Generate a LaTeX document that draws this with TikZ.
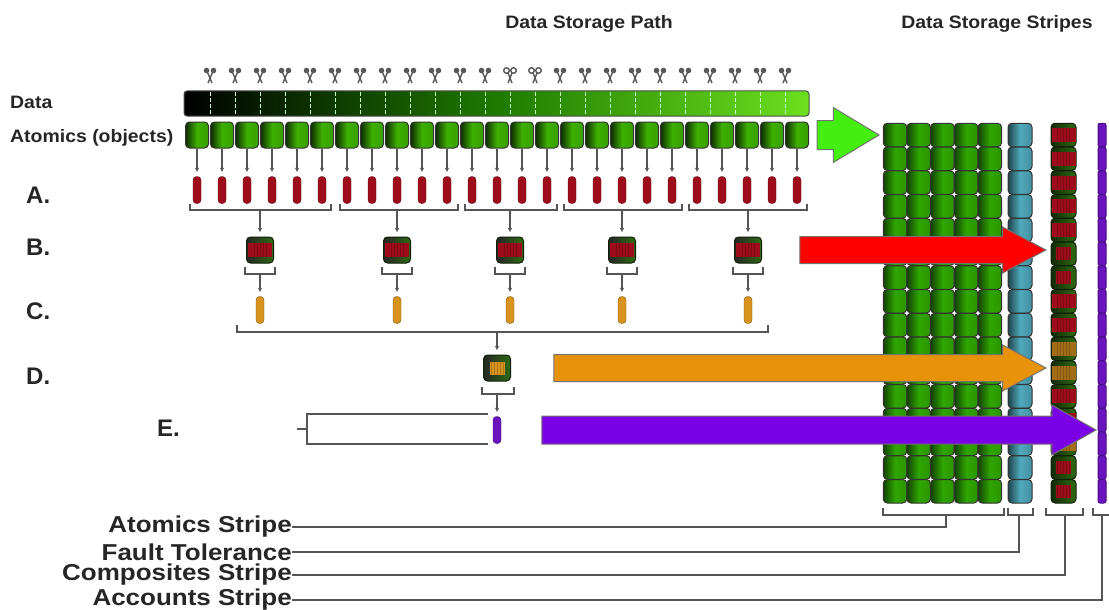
\documentclass[tikz,border=0pt]{standalone}
\usepackage{fontspec}
\setmainfont{Liberation Sans}
\usetikzlibrary{shapes.arrows, arrows.meta}
\definecolor{wirecol}{HTML}{555555}
\definecolor{atomgreen}{HTML}{3DB000}
\definecolor{stripegreen}{HTML}{2FA600}
\definecolor{compgreen}{HTML}{2F6A14}
\definecolor{tealcell}{HTML}{4FA9BC}
\definecolor{corered}{HTML}{9E0C1C}
\definecolor{pillorange}{HTML}{D8921E}
\definecolor{violet}{HTML}{6A14BE}
\definecolor{arrowgreen}{HTML}{44EE11}
\definecolor{arroworange}{HTML}{E8920A}
\definecolor{arrowviolet}{HTML}{7A00E6}
\definecolor{barmid}{HTML}{1E7A00}
\definecolor{barend}{HTML}{6CE01E}
\newcommand{\widen}[2][1.13]{\scalebox{#1}[1]{#2}}

\begin{document}
\begin{tikzpicture}[x=1pt, y=-1pt,
    wire/.style={draw=wirecol, line width=1.3pt},
    flow/.style={wire, -{Latex[length=4.5pt, width=4.5pt]}},
    title/.style={font=\fontsize{18}{18}\selectfont\bfseries, text=black!85},
    rowlabel/.style={font=\fontsize{18}{18}\selectfont\bfseries, anchor=west, text=black!85, inner sep=0pt},
    letter/.style={font=\fontsize{24}{24}\selectfont\bfseries, anchor=west, text=black!85, inner sep=0pt},
    stripelabel/.style={font=\fontsize{23}{23}\selectfont\bfseries, anchor=east, text=black!85, inner sep=0pt},
    cell/.style={rectangle, rounded corners=4pt, draw=black!80, line width=1pt, inner sep=0pt},
    atom/.style={cell, minimum width=23pt, minimum height=26pt, left color=black!75!atomgreen, right color=atomgreen!90!black, middle color=atomgreen},
    stripecell/.style={cell, minimum width=23.5pt, minimum height=23.5pt, left color=black!60!stripegreen, right color=stripegreen!90!black, middle color=stripegreen},
    tealbox/.style={cell, minimum width=24pt, minimum height=23.5pt, left color=black!60!tealcell, right color=tealcell!85!black, middle color=tealcell},
    slim/.style={cell, rounded corners=2pt, minimum width=8pt, minimum height=23.5pt, draw=violet!70!black, fill=violet},
    compcell/.style={cell, minimum width=25pt, minimum height=23.5pt, left color=black!60!compgreen, right color=compgreen, draw=black!70!compgreen},
    compbox/.style={cell, minimum width=27pt, minimum height=26pt, left color=black!85, right color=compgreen, draw=black!70!compgreen},
    core/.style={rectangle, inner sep=0pt, draw=none, fill=#1, path picture={
        \foreach \k in {-6,-3,...,6}
            \draw[black!20!#1, line width=0.7pt] ([xshift=\k pt]path picture bounding box.north) -- ([xshift=\k pt]path picture bounding box.south);
    }},
    widecore/.style={core=#1, minimum width=24pt, minimum height=14pt},
    smallcore/.style={core=#1, minimum width=15pt, minimum height=13pt},
    pill/.style={rectangle, rounded corners=3.5pt, minimum width=8pt, minimum height=27pt, inner sep=0pt, draw=#1!60!black, fill=#1},
    bigarrow/.style={single arrow, anchor=tip, inner xsep=0pt, single arrow head indent=0pt, draw=black!55, line width=1pt},
    scissor/.pic={
        \draw[gray!70!black, line width=1.4pt] (-3.5,-6) -- (2,7) (3.5,-6) -- (-2,7);
        \fill[gray!70!black] (-3.5,-5.5) circle (2.8) (3.5,-5.5) circle (2.8);
    },
    openscissor/.pic={
        \draw[gray!70!black, line width=1.4pt] (-2,-3) -- (2,7) (2,-3) -- (-2,7);
        \draw[gray!70!black, line width=1.4pt, fill=white] (-3.5,-5.5) circle (2.8) (3.5,-5.5) circle (2.8);
    }]
    \useasboundingbox (0,0) rectangle (1109,610);

    \node[title] (pathtitle) at (589,24) {\widen[1.08]{Data Storage Path}};
    \node[title] (stripetitle) at (997,24) {\widen[1.08]{Data Storage Stripes}};
    \node[rowlabel] (datalabel) at (10,102) {\widen[1.08]{Data}};
    \node[rowlabel] (atomlabel) at (10,138) {\widen[1.08]{Atomics (objects)}};
    \node[letter] (la) at (26,195) {A.};
    \node[letter] (lb) at (26,247) {B.};
    \node[letter] (lc) at (26,311) {C.};
    \node[letter] (ld) at (26,376) {D.};
    \node[letter] (le) at (157,428) {E.};

    \foreach \i in {0,...,23} {
        \ifnum\i=12 \pic at ({210+25*\i},76) {openscissor};
        \else\ifnum\i=13 \pic at ({210+25*\i},76) {openscissor};
        \else \pic at ({210+25*\i},76) {scissor};
        \fi\fi
    }

    \node[rectangle, rounded corners=3pt, draw=black!70, line width=1pt, minimum width=625pt, minimum height=25pt, inner sep=0pt, left color=black, right color=barend, middle color=barmid] (data) at (496.5,103.5) {};
    \foreach \i in {0,...,23}
        \draw[white!75!green, line width=0.8pt, dash pattern=on 4pt off 2pt] ({210+25*\i},92) -- ({210+25*\i},115);

    \foreach \i in {0,...,24} {
        \node[atom] (a\i) at ({197+25*\i},135) {};
        \node[pill=corered] (r\i) at ({197+25*\i},190) {};
        \draw[flow, shorten >=4pt] (a\i) -- (r\i);
    }

    \foreach \xa/\xb in {190/331, 340/458, 465/557, 564/682, 689/807}
        \draw[wire] (\xa,204) -- (\xa,210) -- (\xb,210) -- (\xb,204);

    \foreach \n/\x in {1/260, 2/397, 3/510, 4/622, 5/748} {
        \coordinate (g\n) at (\x,210);
        \node[compbox] (c\n) at (\x,250) {};
        \node[widecore=corered] (cc\n) at (\x,250) {};
        \coordinate (h\n) at (\x,274);
        \draw[wire] (\x-15,267) -- (\x-15,274) -- (\x+15,274) -- (\x+15,267);
        \node[pill=pillorange] (o\n) at (\x,310) {};
        \draw[flow, shorten >=4pt] (g\n) -- (c\n);
        \draw[flow, shorten >=4pt] (h\n) -- (o\n);
    }

    \draw[wire] (237,325) -- (237,332) -- (768,332) -- (768,325);
    \coordinate (bigbr) at (497,332);
    \node[compbox] (d1) at (497,368) {};
    \node[smallcore=pillorange] (dd1) at (497,368) {};
    \draw[flow, shorten >=4pt] (bigbr) -- (d1);
    \draw[wire] (482,387) -- (482,394) -- (514,394) -- (514,387);
    \coordinate (dbr) at (497,394);
    \node[pill=violet] (p1) at (497,430) {};
    \draw[flow, shorten >=4pt] (dbr) -- (p1);

    \coordinate (e1) at (488,414);
    \coordinate (e2) at (307,414);
    \coordinate (e3) at (307,444);
    \coordinate (e4) at (488,444);
    \coordinate (e5) at (297,429);
    \coordinate (e6) at (307,429);
    \draw[wire] (e1) -- (e2) -- (e3) -- (e4);
    \draw[wire] (e5) -- (e6);

    \foreach \r in {0,...,15} {
        \foreach \k/\x in {1/895, 2/918.7, 3/942.4, 4/966.1, 5/989.8}
            \node[stripecell] (s\k-\r) at (\x,{135+23.75*\r}) {};
        \node[tealbox] (t\r) at (1020,{135+23.75*\r}) {};
        \node[compcell] (m\r) at (1063.5,{135+23.75*\r}) {};
        \node[slim] (v\r) at (1102,{135+23.75*\r}) {};
    }
    \foreach \r in {0,1,2,3,4,7,8,11,12}
        \node[widecore=corered] at (m\r) {};
    \foreach \r in {5,6,14,15}
        \node[smallcore=corered] at (m\r) {};
    \foreach \r in {9,10,13}
        \node[widecore=pillorange!75!black] at (m\r) {};

    \node[bigarrow, inner ysep=14pt, fill=arrowgreen, minimum height=62pt, minimum width=54pt, single arrow head extend=13pt, single arrow tip angle=62] (arrgreen) at (880,135) {};
    \node[bigarrow, inner ysep=13pt, fill=red, minimum height=246pt, minimum width=45pt, single arrow head extend=9.5pt, single arrow tip angle=56] (arrred) at (1047,250) {};
    \node[bigarrow, inner ysep=13pt, fill=arroworange, minimum height=492pt, minimum width=45pt, single arrow head extend=9.5pt, single arrow tip angle=56] (arrorange) at (1047,368) {};
    \node[bigarrow, inner ysep=13.5pt, fill=arrowviolet, minimum height=554pt, minimum width=49pt, single arrow head extend=11pt, single arrow tip angle=59] (arrviolet) at (1097,430) {};

    \draw[wire] (883,508) -- (883,515) -- (1004,515) -- (1004,508);
    \draw[wire] (1008,508) -- (1008,515) -- (1033,515) -- (1033,508);
    \draw[wire] (1046,508) -- (1046,515) -- (1083,515) -- (1083,508);
    \draw[wire] (1093,508) -- (1093,515) -- (1109,515);

    \coordinate (sb1) at (946,515);
    \coordinate (sb2) at (1019,515);
    \coordinate (sb3) at (1065,515);
    \coordinate (sb4) at (1102,515);
    \node[stripelabel] (st1) at (292,527) {\widen{Atomics Stripe}};
    \node[stripelabel] (st2) at (292,552) {\widen{Fault Tolerance}};
    \node[stripelabel] (st3) at (292,575) {\widen{Composites Stripe}};
    \node[stripelabel] (st4) at (292,600) {\widen{Accounts Stripe}};
    \draw[wire] (st1.east) -| (sb1);
    \draw[wire] (st2.east) -| (sb2);
    \draw[wire] (st3.east) -| (sb3);
    \draw[wire] (st4.east) -| (sb4);
\end{tikzpicture}
\end{document}
